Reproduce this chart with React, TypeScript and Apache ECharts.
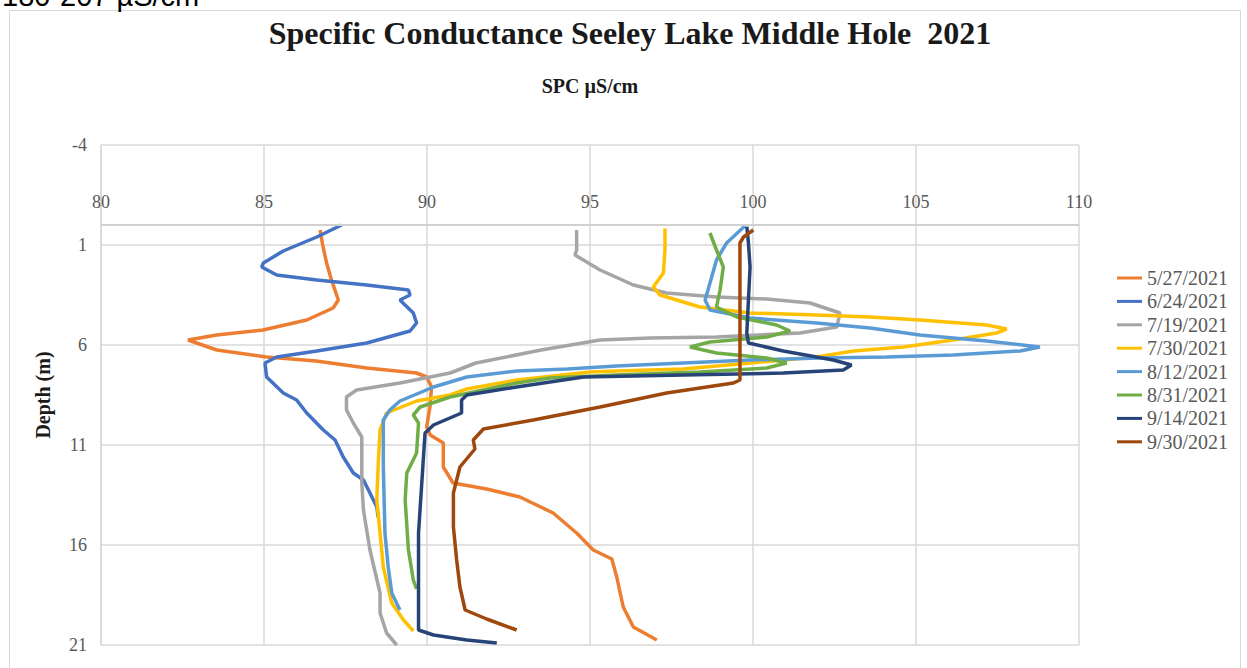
import React, { useEffect, useRef } from "react";
import * as echarts from "echarts";

const seriesNames = ["5/27/2021", "6/24/2021", "7/19/2021", "7/30/2021", "8/12/2021", "8/31/2021", "9/14/2021", "9/30/2021"];
const seriesColors = ["#ED7D31", "#4472C4", "#A5A5A5", "#FFC000", "#5B9BD5", "#70AD47", "#264478", "#9E480E"];

// [SPC µS/cm, depth m]
const may27 = [[86.72,0.25],[86.8,1.0],[86.92,1.9],[87.07,2.75],[87.28,3.75],[87.12,4.15],[86.31,4.75],[84.97,5.25],[83.55,5.5],[82.67,5.75],[83.55,6.25],[85.08,6.6],[86.6,6.8],[88.15,7.15],[89.68,7.4],[89.99,7.6],[90.14,8.1],[90.09,9.1],[89.99,10.1],[90.1,10.5],[90.5,10.9],[90.5,12.1],[90.8,12.9],[91.83,13.2],[92.85,13.6],[93.87,14.4],[94.59,15.4],[95.1,16.25],[95.67,16.7],[95.82,17.6],[96.02,19.1],[96.33,20.1],[97.05,20.75]];
const jun24 = [[87.38,0],[86.62,0.6],[85.59,1.3],[84.98,1.9],[84.93,2.1],[85.39,2.5],[86.62,2.75],[88.15,3.0],[89.43,3.25],[89.48,3.5],[89.17,3.75],[89.58,4.4],[89.68,4.9],[89.48,5.3],[88.15,5.9],[86.62,6.3],[85.39,6.6],[85.03,6.9],[85.08,7.6],[85.59,8.4],[86.0,8.75],[86.31,9.4],[86.82,10.25],[87.18,10.75],[87.43,11.6],[87.74,12.4],[88.05,12.75],[88.25,13.4],[88.46,14.1],[88.5,14.6]];
const jul19 = [[94.59,0.25],[94.59,1.25],[94.54,1.5],[95.31,2.25],[96.33,3.0],[97.35,3.4],[98.88,3.6],[100.42,3.7],[101.75,3.9],[102.67,4.4],[102.57,5.1],[101.44,5.4],[98.88,5.6],[96.84,5.65],[95.31,5.75],[93.5,6.25],[91.5,6.9],[90.71,7.4],[89.17,7.9],[87.84,8.25],[87.53,8.6],[87.53,9.25],[87.74,9.9],[88.0,10.6],[88.0,12.9],[88.05,14.25],[88.25,16.25],[88.56,18.4],[88.56,19.4],[88.76,20.4],[89.07,21.0]];
const jul30 = [[97.3,0.17],[97.3,1.25],[97.25,2.4],[96.94,3.1],[97.15,3.5],[98.37,4.1],[99.91,4.4],[101.95,4.5],[103.59,4.6],[105.12,4.75],[107.17,5.0],[107.78,5.2],[107.47,5.4],[106.14,5.75],[104.61,6.1],[103.08,6.3],[101.95,6.6],[99.91,6.9],[97.86,7.2],[95.82,7.3],[95.0,7.35],[92.75,7.75],[91.22,8.2],[90.71,8.5],[89.68,8.8],[88.76,9.4],[88.56,10.25],[88.51,11.75],[88.46,13.75],[88.56,15.4],[88.66,17.1],[88.92,18.9],[89.28,19.75],[89.58,20.3]];
const aug12 = [[99.75,0.05],[99.19,0.9],[98.88,1.75],[98.68,2.9],[98.53,3.75],[98.68,4.25],[99.91,4.65],[101.95,4.9],[103.59,5.15],[105.12,5.5],[107.17,5.8],[108.8,6.1],[108.19,6.3],[106.14,6.5],[104.1,6.6],[102.06,6.65],[99.91,6.75],[97.86,6.9],[95.82,7.05],[94.3,7.2],[92.75,7.3],[91.22,7.6],[90.2,8.1],[89.17,8.8],[88.86,9.25],[88.66,9.75],[88.66,12.1],[88.71,15.4],[88.81,17.1],[88.92,18.4],[89.17,19.25]];
const aug31 = [[98.68,0.4],[98.88,1.25],[99.09,2.1],[98.99,3.25],[98.88,4.1],[99.5,4.6],[100.72,5.0],[101.14,5.3],[100.42,5.6],[98.68,5.85],[98.07,6.1],[98.88,6.4],[100.42,6.65],[101.03,6.9],[100.42,7.15],[98.37,7.35],[95.82,7.5],[93.77,7.65],[92.75,7.9],[90.71,8.6],[89.79,9.1],[89.58,9.5],[89.74,9.9],[89.68,11.4],[89.38,12.4],[89.33,13.75],[89.43,16.25],[89.58,17.75],[89.68,18.2]];
const sep14 = [[99.81,0.08],[99.86,0.9],[99.91,2.1],[99.86,3.75],[99.81,5.4],[99.86,5.9],[100.93,6.3],[102.46,6.75],[103.02,7.0],[102.77,7.25],[100.93,7.4],[97.86,7.5],[94.8,7.6],[92.75,8.1],[91.22,8.5],[91.06,8.75],[91.06,9.4],[90.2,10.0],[89.94,10.4],[89.84,12.9],[89.74,15.4],[89.74,17.9],[89.74,20.25],[90.2,20.5],[91.22,20.75],[92.14,20.9]];
const sep30 = [[100.01,0.25],[99.71,0.6],[99.6,0.9],[99.6,7.75],[99.4,7.9],[97.35,8.4],[95.31,9.1],[93.26,9.75],[91.73,10.2],[91.42,10.75],[91.47,11.2],[91.01,12.1],[90.81,13.4],[90.81,15.1],[90.91,16.75],[91.01,18.1],[91.17,19.25],[91.83,19.7],[92.75,20.25]];

const allSeries = [may27, jun24, jul19, jul30, aug12, aug31, sep14, sep30];

const titleText = "Specific Conductance Seeley Lake Middle Hole  2021";
const xAxisTitle = "SPC µS/cm";
const yAxisTitle = "Depth (m)";
const topCutText = "180-207 µS/cm";
const zeroDepth = 0;

const SERIF = "'Liberation Serif', 'Times New Roman', serif";

export default function App() {
  const ref = useRef<HTMLDivElement>(null);
  useEffect(() => {
    const chart = echarts.init(ref.current!, null, { renderer: "svg" });
    chart.setOption({
      animation: false,
      backgroundColor: "#ffffff",
      graphic: [
        {
          type: "rect",
          shape: { x: 9.5, y: 10.5, width: 1231, height: 700 },
          style: { fill: "none", stroke: "#d9d9d9", lineWidth: 1 },
          silent: true,
        },
        {
          type: "text",
          x: 2,
          y: 10,
          style: {
            text: topCutText,
            fontFamily: "'Liberation Sans', Arial, sans-serif",
            fontSize: 29,
            fill: "#000",
            textVerticalAlign: "bottom",
          },
        },
        {
          type: "text",
          x: 630,
          y: 33,
          style: {
            text: titleText,
            textAlign: "center",
            textVerticalAlign: "middle",
            fontFamily: SERIF,
            fontSize: 32,
            fontWeight: "bold",
            fill: "#1a1a1a",
          },
        },
      ],
      legend: {
        orient: "vertical",
        left: 1117,
        top: 268,
        padding: 0,
        itemWidth: 25,
        itemHeight: 3,
        itemGap: 3.4,
        icon: "rect",
        data: seriesNames,
        textStyle: { fontFamily: SERIF, fontSize: 20, lineHeight: 20, color: "#595959" },
      },
      grid: { left: 101, top: 145, width: 978, height: 500, containLabel: false, outerBoundsMode: "none" },
      xAxis: {
        type: "value",
        position: "top",
        min: 80,
        max: 110,
        interval: 5,
        name: xAxisTitle,
        nameLocation: "middle",
        nameGap: 49,
        nameTextStyle: { fontFamily: SERIF, fontSize: 20, fontWeight: "bold", color: "#1a1a1a" },
        axisLine: { show: false, onZero: false },
        axisTick: { show: false },
        axisLabel: { margin: -66, fontFamily: SERIF, fontSize: 18, color: "#595959" },
        splitLine: { show: true, lineStyle: { color: "#d9d9d9", width: 1.5 } },
      },
      yAxis: {
        type: "value",
        inverse: true,
        min: -4,
        max: 21,
        interval: 5,
        name: yAxisTitle,
        nameLocation: "middle",
        nameGap: 48,
        nameRotate: 90,
        nameTextStyle: { fontFamily: SERIF, fontSize: 20, fontWeight: "bold", color: "#1a1a1a" },
        axisLine: { show: true, onZero: false, lineStyle: { color: "#d9d9d9", width: 1.5 } },
        axisTick: { show: false },
        axisLabel: { margin: 14, fontFamily: SERIF, fontSize: 18, color: "#595959" },
        splitLine: { show: true, lineStyle: { color: "#d9d9d9", width: 1.5 } },
      },
      series: allSeries.map((d, i) => ({
        name: seriesNames[i],
        type: "line",
        data: d,
        showSymbol: false,
        symbol: "none",
        smooth: false,
        color: seriesColors[i],
        lineStyle: { color: seriesColors[i], width: 3.5 },
        markLine:
          i === 0
            ? {
                silent: true,
                symbol: "none",
                label: { show: false },
                lineStyle: { color: "#d0d0d0", width: 2, type: "solid" },
                data: [{ yAxis: zeroDepth }],
              }
            : undefined,
        z: 3,
      })),
    });
    return () => chart.dispose();
  }, []);
  return (
    <div
      ref={ref}
      style={{ position: "absolute", left: 0, top: 0, width: 1247, height: 668, background: "#fff" }}
    />
  );
}
